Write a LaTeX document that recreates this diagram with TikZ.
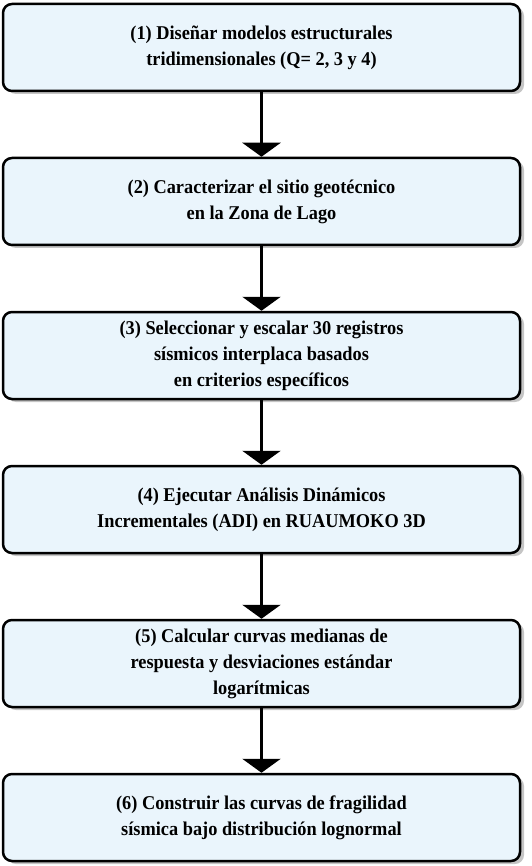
\documentclass[tikz,border=0pt]{standalone}
\usepackage{fontspec}
\setmainfont[FakeStretch=0.94]{Liberation Serif}
\usetikzlibrary{positioning,arrows.meta,shadows}
\definecolor{boxfill}{RGB}{234,245,252}

\begin{document}
\begin{tikzpicture}[x=1pt,y=1pt,
  paso/.style={draw=black,line width=2.5pt,fill=boxfill,rounded corners=9pt,
    minimum width=517pt,minimum height=87pt,inner sep=2pt,align=center,
    font=\fontsize{19.5}{26}\selectfont\bfseries,
    drop shadow={shadow xshift=4pt,shadow yshift=-3pt,fill=black!45}},
  flecha/.style={line width=3pt,-{Triangle[width=38pt,length=14pt]}}]

\useasboundingbox (0,0) rectangle (531,-866);

\node[paso] (p1) at (261.5,-47.5) {(1) Diseñar modelos estructurales\\ tridimensionales (Q= 2, 3 y 4)};
\node[paso,below=64.5pt of p1] (p2) {(2) Caracterizar el sitio geotécnico\\ en la Zona de Lago};
\node[paso,below=64.5pt of p2] (p3) {(3) Seleccionar y escalar 30 registros\\ sísmicos interplaca basados\\ en criterios específicos};
\node[paso,below=64.5pt of p3] (p4) {(4) Ejecutar Análisis Dinámicos\\ Incrementales (ADI) en RUAUMOKO 3D};
\node[paso,below=64.5pt of p4] (p5) {(5) Calcular curvas medianas de\\ respuesta y desviaciones estándar\\ logarítmicas};
\node[paso,below=64.5pt of p5] (p6) {(6) Construir las curvas de fragilidad\\ sísmica bajo distribución lognormal};

\foreach \a/\b in {p1/p2,p2/p3,p3/p4,p4/p5,p5/p6}
    \draw[flecha] (\a) -- (\b);

\end{tikzpicture}
\end{document}
